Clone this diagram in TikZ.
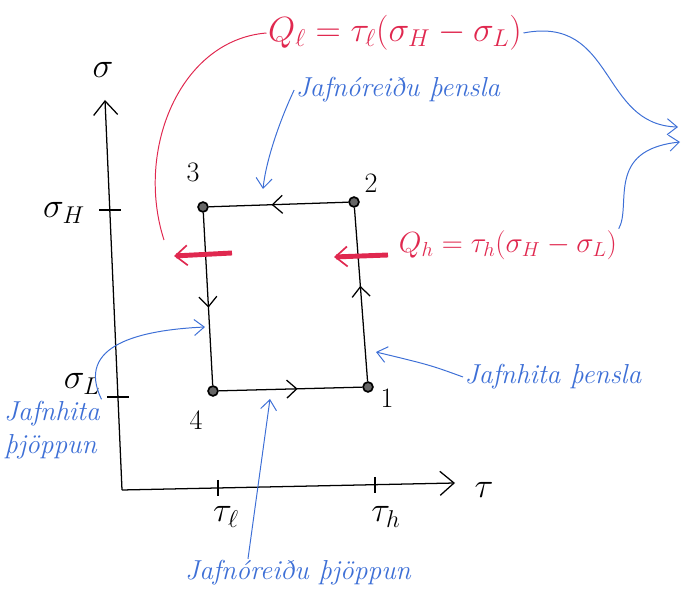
\documentclass[tikz,border=0pt]{standalone}
\usepackage{amsmath}
\usepackage{xcolor}
\usepackage{tikz}
\usetikzlibrary{positioning,arrows.meta,decorations.markings}
\definecolor{inkred}{HTML}{E0284F}
\definecolor{inkblue}{HTML}{3D6FD6}

\begin{document}
\begin{tikzpicture}[x=0.025cm, y=-0.025cm,
  font=\fontsize{20}{24}\selectfont,
  axis/.style={line width=0.9pt, -{Straight Barb[length=3.5mm,width=6mm]}},
  leg/.style={line width=0.9pt, postaction={decorate},
              decoration={markings, mark=at position 0.55 with
                {\arrow{Straight Barb[length=2.5mm,width=4.5mm]}}}},
  heat/.style={inkred, line width=3.5pt,
               -{Straight Barb[length=3mm,width=5mm,line width=1.2pt]}},
  hint/.style={inkblue, line width=0.7pt, -{Straight Barb[length=2.5mm,width=4mm]}},
  note/.style={inkblue, font=\fontsize{19.5}{23.5}\selectfont\itshape, inner sep=1pt},
  eq/.style={inkred, font=\fontsize{22}{26}\selectfont, inner sep=1pt},
  big/.style={font=\fontsize{34}{40}\selectfont},
  mid/.style={font=\fontsize{24}{28}\selectfont},
  dot/.style={circle, draw, line width=1.2pt, fill=black!60, inner sep=0pt, minimum size=7pt}]
\useasboundingbox (0,0) rectangle (692,609);

% axes
\coordinate (O) at (122,490);
\coordinate (ytop) at (105,100);
\coordinate (xend) at (455,483);
\draw[axis] (O) -- (ytop);
\draw[axis] (O) -- (xend);
\node[big] (sig) at (103,70) {$\sigma$};
\node[big] (tau) at (484,490) {$\tau$};
\draw[line width=0.9pt] (99,210) -- (121,210);
\draw[line width=0.9pt] (107,397) -- (129,397);
\draw[line width=0.9pt] (218,480) -- (218,496);
\draw[line width=0.9pt] (375,477) -- (375,493);
\node[mid] (sH) at (64,213) {$\sigma_H$};
\node[mid] (sL) at (82,384) {$\sigma_L$};
\node[mid] (tl) at (226,517) {$\tau_\ell$};
\node[mid] (th) at (386,517) {$\tau_h$};

% cycle
\node[dot] (p3) at (203,207) {};
\node[dot] (p2) at (354,202) {};
\node[dot] (p1) at (368,387) {};
\node[dot] (p4) at (213,391) {};
\draw[leg] (p2) -- (p3);
\draw[leg] (p3) -- (p4);
\draw[leg] (p4) -- (p1);
\draw[leg] (p1) -- (p2);
\foreach \n/\x/\y in {3/193/172, 2/371/183, 1/387/398, 4/196/420}
  \node (n\n) at (\x,\y) {\n};

% heat flows
\coordinate (hl0) at (232,253);
\coordinate (hl1) at (174,256);
\coordinate (hr0) at (388,255);
\coordinate (hr1) at (334,257);
\draw[heat] (hl0) -- (hl1);
\draw[heat] (hr0) -- (hr1);
\node[eq, font=\fontsize{24.5}{28}\selectfont] (Ql) at (395,33) {$Q_\ell = \tau_\ell(\sigma_H - \sigma_L)$};
\node[eq] (Qh) at (508,245) {$Q_h = \tau_h(\sigma_H - \sigma_L)$};
\coordinate (qlend) at (164,240);
\draw[inkred, line width=0.7pt] (Ql.west) .. controls (180,40) and (135,150) .. (qlend);

% comparison arrows
\coordinate (cmp1) at (678,127);
\coordinate (cmp2) at (680,142);
\draw[hint] (Ql.east) .. controls (615,15) and (600,125) .. (cmp1);
\draw[hint] (Qh.north east) .. controls (632,205) and (605,150) .. (cmp2);

% process labels
\node[note] (lab1) at (398,90) {Jafnóreiðu þensla};
\node[note] (lab2) at (553,377) {Jafnhita þensla};
\node[note, align=left] (lab3) at (52,430) {Jafnhita\\þjöppun};
\node[note] (lab4) at (298,573) {Jafnóreiðu þjöppun};
\coordinate (t1) at (263,189);
\coordinate (t2) at (376,352);
\coordinate (t3) at (205,327);
\coordinate (t4) at (270,399);
\draw[hint] (lab1.west) .. controls (280,120) and (266,160) .. (t1);
\draw[hint] (lab2.west) .. controls (430,365) .. (t2);
\draw[hint] (lab3.north east) .. controls (75,345) and (140,330) .. (t3);
\draw[hint] ([xshift=-1.25cm]lab4.north) -- (t4);
\end{tikzpicture}
\end{document}
